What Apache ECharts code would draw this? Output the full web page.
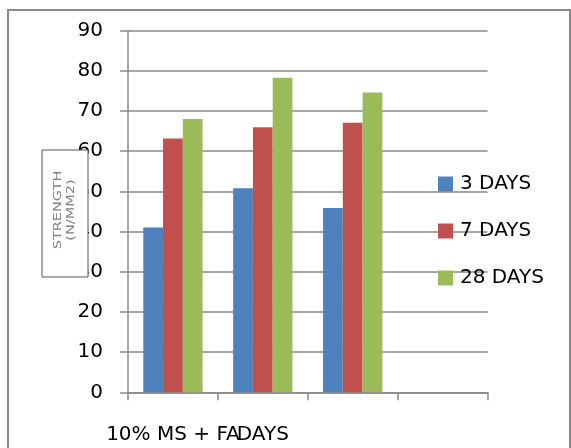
<!DOCTYPE html>
<html>
<head>
<meta charset="utf-8">
<script src="https://cdn.jsdelivr.net/npm/echarts@6/dist/echarts.min.js"></script>
<style>html,body{margin:0;padding:0;background:#fff}#c{width:571px;height:448px}</style>
</head>
<body>
<div id="c"></div>
<script>
const categories = ["10% MS + FA", "DAYS", "", ""];
const seriesNames = ["3 DAYS", "7 DAYS", "28 DAYS"];
const days3 = [41, 50.8, 45.9, null];
const days7 = [63.2, 66, 67.1, null];
const days28 = [68, 78.3, 74.6, null];
const yTicks = [0, 10, 20, 30, 40, 50, 60, 70, 80, 90];
const colors = ["#4F81BD", "#C0504D", "#9BBB59"];

const chart = echarts.init(document.getElementById('c'), null, {renderer: 'canvas'});
const font = "DejaVu Sans";
const lineCol = "#898989";
const seriesData = [days3, days7, days28];
chart.setOption({
  animation: false,
  color: colors,
  grid: {left: 128, right: 83.5, top: 30.7, bottom: 55.7, containLabel: false},
  legend: {
    orient: 'vertical', left: 438, top: 174, padding: 0,
    itemWidth: 15, itemHeight: 15, itemGap: 27,
    icon: 'rect',
    textStyle: {fontFamily: font, fontSize: 20, color: '#000', padding: [0,0,0,2]},
    data: seriesNames
  },
  xAxis: {
    type: 'category', data: categories,
    axisLine: {lineStyle: {color: lineCol, width: 1.5}},
    axisTick: {show: true, length: 8, lineStyle: {color: lineCol, width: 1.5}},
    axisLabel: {interval: 0, hideOverlap: false, margin: 32, fontFamily: font, fontSize: 20, color: '#000'}
  },
  yAxis: {
    type: 'value', min: yTicks[0], max: yTicks[yTicks.length-1], interval: 10,
    axisLine: {show: true, lineStyle: {color: lineCol, width: 1.5}},
    axisTick: {show: true, length: 8, lineStyle: {color: lineCol, width: 1.5}},
    splitLine: {lineStyle: {color: lineCol, width: 1.5}},
    axisLabel: {margin: 25, fontFamily: font, fontSize: 20, color: '#000'}
  },
  series: seriesNames.map((n, i) => ({
    name: n, type: 'bar', data: seriesData[i],
    barGap: 0, barCategoryGap: '34%'
  })),
  graphic: [
    {type: 'rect', z: 100, silent: true, shape: {x: 8, y: 10, width: 562, height: 470},
     style: {fill: 'none', stroke: '#8a8a8a', lineWidth: 2}},
    {type: 'rect', z: 200, shape: {x: 42, y: 150, width: 46, height: 127},
     style: {fill: '#fff', stroke: '#555', lineWidth: 1}},
    {type: 'text', z: 201, x: 58, y: 210, rotation: Math.PI/2, scaleX: 1.45,
     style: {text: 'STRENGTH', fill: '#808080', font: '10px "DejaVu Sans"', align: 'center', verticalAlign: 'middle'}},
    {type: 'text', z: 201, x: 71.5, y: 210, rotation: Math.PI/2, scaleX: 1.45,
     style: {text: '(N/MM2)', fill: '#808080', font: '10px "DejaVu Sans"', align: 'center', verticalAlign: 'middle'}}
  ]
});
</script>
</body>
</html>
